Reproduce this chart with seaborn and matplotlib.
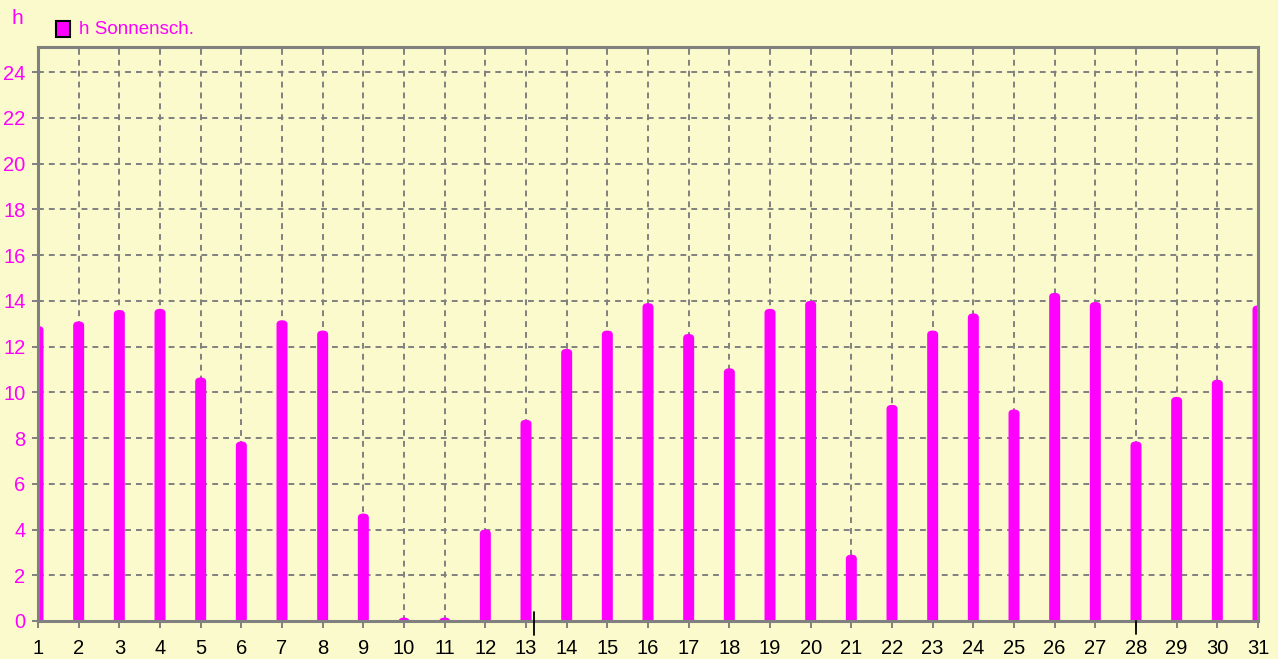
import matplotlib
matplotlib.use("Agg")
import matplotlib.pyplot as plt
import seaborn as sns
import pandas as pd
from matplotlib.patches import FancyBboxPatch, Rectangle

# daily sunshine hours for one month
days = list(range(1, 32))
hours = [12.9, 13.1, 13.6, 13.65, 10.65, 7.85, 13.15, 12.7, 4.7, 0.15,
         0.15, 4.0, 8.8, 11.9, 12.7, 13.9, 12.55, 11.05, 13.65, 14.0,
         2.9, 9.45, 12.7, 13.45, 9.25, 14.35, 13.95, 7.85, 9.8, 10.55, 13.8]
y_ticks = list(range(0, 25, 2))
series_name = "h Sonnensch."
unit = "h"

bg = "#FAFACC"
magenta = "#FF00FF"
gray = "#808080"

sns.set_style("white")
plt.rcParams['font.family'] = ['Liberation Sans', 'DejaVu Sans']

df = pd.DataFrame({'day': days, 'hours': hours})

fig = plt.figure(figsize=(12.78, 6.59), dpi=100, facecolor=bg)
ax = fig.add_axes([38 / 1278, 1 - 621 / 659, 1220 / 1278, 574 / 659])
ax.set_facecolor(bg)

sns.barplot(data=df, x='day', y='hours', color=magenta, saturation=1,
            width=0.27, linewidth=0, ax=ax)

# rounded bar tops like the original plot
for p in list(ax.patches):
    x, w, h = p.get_x(), p.get_width(), p.get_height()
    p.remove()
    ax.add_patch(FancyBboxPatch((x, -1), w, h + 1,
                                boxstyle=f"round,pad=0,rounding_size={w / 2}",
                                mutation_aspect=1.3, fc=magenta, ec='none', zorder=2))

ax.set_xlim(0, len(days) - 1)
ax.set_ylim(0, 25.1)
ax.set_xticks(range(len(days)))
ax.set_xticklabels([str(d) for d in days])
ax.set_yticks(y_ticks)
ax.set_yticklabels([str(t) for t in y_ticks])
ax.set_xlabel('')
ax.set_ylabel('')

ax.set_axisbelow(True)
ax.grid(True, color=gray, linestyle=(0, (3.0, 2.6)), linewidth=1.4)

for s in ax.spines.values():
    s.set_visible(True)
    s.set_color(gray)
    s.set_linewidth(2.2)
    s.set_zorder(3)

ax.tick_params(axis='x', direction='out', length=5, width=1.4, color=gray,
               labelcolor='black', labelsize=14.5, pad=8, bottom=True)
ax.tick_params(axis='y', direction='out', length=4, width=1.4, color=gray,
               labelcolor=magenta, labelsize=14.5, pad=5, left=True)

# black marker ticks on the day axis
trans = ax.get_xaxis_transform()
ax.plot([12.2, 12.2], [0.016, -0.024], color='black', lw=1.3,
        transform=trans, clip_on=False, zorder=4)
ax.plot([27, 27], [0.0, -0.022], color='black', lw=1.3,
        transform=trans, clip_on=False, zorder=4)

# unit label and legend
fig.text(17 / 1278, 1 - 19 / 659, unit, color=magenta, fontsize=15,
         ha='center', va='center')
fig.patches.append(Rectangle((56 / 1278, 1 - 37 / 659), 14 / 1278, 16 / 659,
                             transform=fig.transFigure, fc=magenta, ec='black', lw=1.5))
fig.text(79 / 1278, 1 - 30 / 659, series_name, color=magenta, fontsize=13.5,
         ha='left', va='center')

fig.savefig('out.png', dpi=100, facecolor=bg)
